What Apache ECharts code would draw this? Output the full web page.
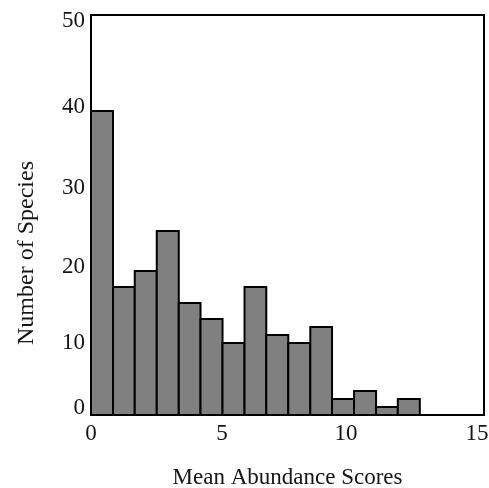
<!DOCTYPE html>
<html>
<head>
<meta charset="utf-8">
<script src="https://cdn.jsdelivr.net/npm/echarts@6/dist/echarts.min.js"></script>
<style>
html,body{margin:0;padding:0;background:#fff;}
#chart{width:489px;height:488px;}
</style>
</head>
<body>
<div id="chart"></div>
<script>
// Histogram bin edges (Mean Abundance Scores)
const binStarts = [0, 0.84, 1.67, 2.51, 3.35, 4.18, 5.02, 5.86, 6.69, 7.53, 8.37, 9.20, 10.04, 10.88, 11.71];
const binEnds   = [0.84, 1.67, 2.51, 3.35, 4.18, 5.02, 5.86, 6.69, 7.53, 8.37, 9.20, 10.04, 10.88, 11.71, 12.55];
// Number of species per bin
const counts    = [38, 16, 18, 23, 14, 12, 9, 16, 10, 9, 11, 2, 3, 1, 2];
// Axis ticks
const xTicks = [0, 5, 10, 15];
const yTicks = [0, 10, 20, 30, 40, 50];
const xTitle = 'Mean Abundance Scores';
const yTitle = 'Number of Species';

const FONT = 'Liberation Serif';
const TXT = '#151515';
const TICK_SIZE = 23;

const data = counts.map((c, i) => [binStarts[i], binEnds[i], c]);

// label style tweaks (positions of tick text as in the reference)
const yShift = {0: -7, 10: 8, 20: 12, 30: 13, 40: 12, 50: 6};
const xShift = {0: 0, 5: 0, 10: -7, 15: -7};
const yRich = {}, xRich = {};
yTicks.forEach(v => {
  const s = yShift[v];
  yRich['y' + v] = {fontFamily: FONT, fontSize: TICK_SIZE, color: TXT,
    padding: s >= 0 ? [2 * s, 0, 0, 0] : [0, 0, -2 * s, 0]};
});
xTicks.forEach(v => {
  const s = xShift[v];
  xRich['x' + v] = {fontFamily: FONT, fontSize: TICK_SIZE, color: TXT,
    padding: s >= 0 ? [0, 0, 0, 2 * s] : [0, -2 * s, 0, 0]};
});

const chart = echarts.init(document.getElementById('chart'), null, {renderer: 'canvas'});
chart.setOption({
  animation: false,
  backgroundColor: '#fff',
  grid: {left: 91, right: 5, top: 15, bottom: 73, show: true, borderColor: '#000', borderWidth: 2,
    backgroundColor: 'transparent', containLabel: false, outerBoundsMode: 'none'},
  xAxis: {
    type: 'value', min: 0, max: 15, interval: 5,
    axisLine: {show: true, onZero: false, lineStyle: {color: '#000', width: 2}},
    axisTick: {show: false},
    splitLine: {show: false},
    axisLabel: {margin: 7, formatter: v => '{x' + v + '|' + v + '}', rich: xRich,
      fontFamily: FONT, fontSize: TICK_SIZE, color: TXT},
    name: xTitle, nameLocation: 'middle', nameGap: 51,
    nameTextStyle: {fontFamily: FONT, fontSize: 23, color: TXT}
  },
  yAxis: {
    type: 'value', min: 0, max: 50, interval: 10,
    axisLine: {show: true, lineStyle: {color: '#000', width: 2}},
    axisTick: {show: false},
    splitLine: {show: false},
    axisLabel: {margin: 6, formatter: v => '{y' + v + '|' + v + '}', rich: yRich,
      fontFamily: FONT, fontSize: TICK_SIZE, color: TXT},
    name: yTitle, nameLocation: 'middle', nameGap: 52,
    nameTextStyle: {fontFamily: FONT, fontSize: 24, color: TXT, padding: [0, 76, 0, 0]}
  },
  series: [{
    type: 'custom',
    data: data,
    encode: {x: [0, 1], y: 2},
    renderItem: function (params, api) {
      const x0 = api.value(0), x1 = api.value(1), c = api.value(2);
      const p0 = api.coord([x0, c]);
      const p1 = api.coord([x1, 0]);
      return {
        type: 'rect',
        shape: {x: p0[0], y: p0[1], width: p1[0] - p0[0], height: p1[1] - p0[1]},
        style: {fill: '#808080', stroke: '#000', lineWidth: 2}
      };
    }
  }]
});
</script>
</body>
</html>
